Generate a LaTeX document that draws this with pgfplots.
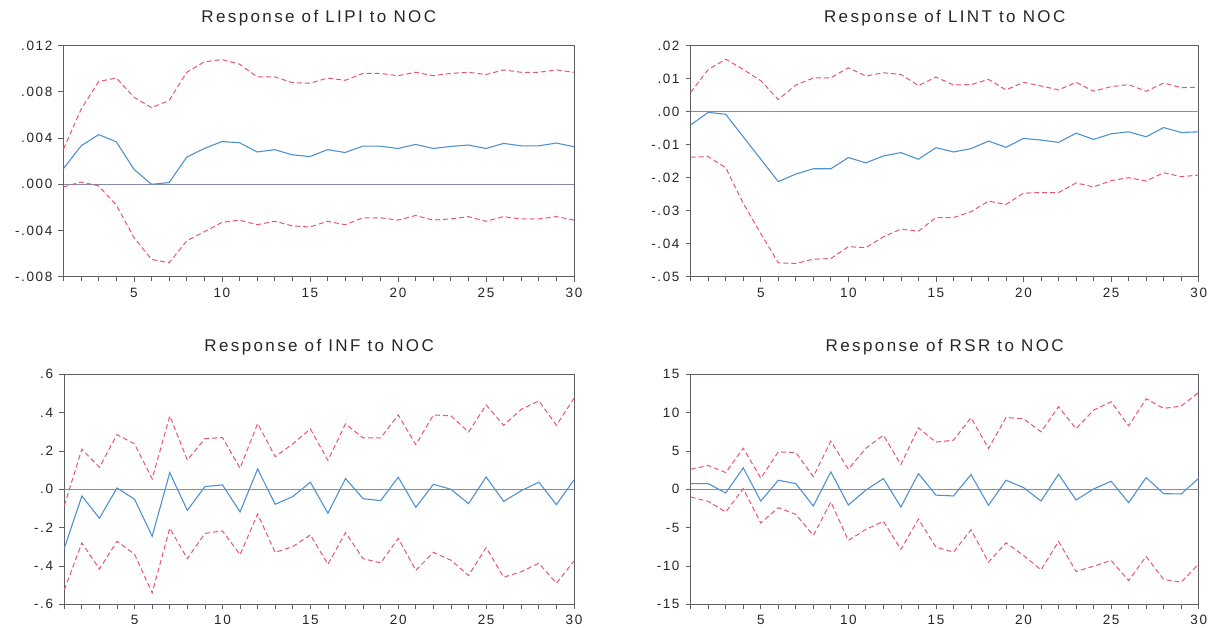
\documentclass[border=0pt]{standalone}
\usepackage{pgfplots}
\usepackage{pgfplotstable}
\pgfplotsset{compat=1.18}
\usepackage{fontspec}
\setmainfont{Liberation Sans}
\newfontfamily\titlefont[LetterSpace=14]{Liberation Sans}
\newfontfamily\tickfont[LetterSpace=12]{Liberation Sans}
\definecolor{irfblue}{RGB}{80,145,210}
\definecolor{irfred}{RGB}{232,85,115}
\definecolor{framegray}{RGB}{95,95,105}
\definecolor{zerogray}{RGB}{135,140,165}

\pgfplotstableread{
x mid up lo
1 0.00136 0.00304 -0.00023
2 0.00333 0.0065 0.0002
3 0.0043 0.0089 -0.00015
4 0.00368 0.0092 -0.0018
5 0.0013 0.00754 -0.0046
6 0.0 0.00664 -0.0065
7 0.00015 0.00725 -0.0068
8 0.00235 0.0097 -0.0049
9 0.0031 0.0106 -0.0041
10 0.0037 0.0108 -0.0033
11 0.0036 0.0104 -0.0031
12 0.0028 0.0093 -0.0035
13 0.003 0.0093 -0.0032
14 0.00255 0.0088 -0.0036
15 0.0024 0.00875 -0.0037
16 0.003 0.0092 -0.0032
17 0.00275 0.009 -0.0035
18 0.0033 0.0096 -0.0029
19 0.0033 0.0096 -0.0029
20 0.0031 0.0094 -0.0031
21 0.00345 0.0097 -0.0027
22 0.0031 0.0094 -0.0031
23 0.00328 0.0096 -0.003
24 0.0034 0.0097 -0.0028
25 0.0031 0.0095 -0.0032
26 0.00354 0.0099 -0.0028
27 0.00333 0.0097 -0.003
28 0.00333 0.0097 -0.003
29 0.00357 0.0099 -0.0028
30 0.00325 0.0097 -0.0031
}\tlipi

\pgfplotstableread{
x mid up lo
1 -0.004 0.0059 -0.0138
2 -0.0002 0.0128 -0.0136
3 -0.0008 0.0159 -0.017
4 -0.0076 0.0128 -0.0278
5 -0.0144 0.0094 -0.0369
6 -0.0212 0.0037 -0.0458
7 -0.0189 0.0081 -0.046
8 -0.0173 0.0102 -0.0447
9 -0.0173 0.0103 -0.0445
10 -0.0139 0.0133 -0.0409
11 -0.0155 0.0108 -0.0412
12 -0.0134 0.0118 -0.0379
13 -0.0124 0.0113 -0.0356
14 -0.0144 0.0079 -0.0362
15 -0.0109 0.0105 -0.0321
16 -0.0122 0.0081 -0.0321
17 -0.0112 0.0082 -0.0303
18 -0.0089 0.0098 -0.0271
19 -0.0108 0.0066 -0.0281
20 -0.0081 0.0089 -0.0247
21 -0.0086 0.0078 -0.0245
22 -0.0093 0.0066 -0.0245
23 -0.0065 0.0089 -0.0216
24 -0.0084 0.0062 -0.0228
25 -0.0067 0.0076 -0.0209
26 -0.0061 0.0082 -0.02
27 -0.0076 0.0062 -0.021
28 -0.0048 0.0087 -0.0185
29 -0.0063 0.0073 -0.0197
30 -0.0061 0.0074 -0.0192
}\tlint

\pgfplotstableread{
x mid up lo
1 -0.308 -0.085 -0.525
2 -0.035 0.209 -0.28
3 -0.151 0.115 -0.416
4 0.007 0.285 -0.271
5 -0.052 0.237 -0.339
6 -0.245 0.054 -0.541
7 0.087 0.383 -0.203
8 -0.11 0.153 -0.362
9 0.014 0.264 -0.23
10 0.023 0.27 -0.217
11 -0.118 0.11 -0.341
12 0.106 0.343 -0.129
13 -0.078 0.17 -0.329
14 -0.038 0.237 -0.299
15 0.037 0.315 -0.238
16 -0.125 0.151 -0.391
17 0.056 0.341 -0.226
18 -0.049 0.268 -0.362
19 -0.059 0.268 -0.384
20 0.063 0.388 -0.256
21 -0.094 0.233 -0.423
22 0.026 0.388 -0.329
23 0.0 0.383 -0.37
24 -0.075 0.299 -0.45
25 0.064 0.44 -0.304
26 -0.063 0.334 -0.459
27 -0.007 0.417 -0.43
28 0.037 0.461 -0.386
29 -0.08 0.334 -0.49
30 0.049 0.475 -0.374
}\tinf

\pgfplotstableread{
x mid up lo
1 0.74 2.62 -1.0
2 0.74 3.1 -1.57
3 -0.48 2.18 -2.96
4 2.79 5.36 0.09
5 -1.53 1.44 -4.4
6 1.18 4.88 -2.4
7 0.74 4.8 -3.27
8 -2.18 1.66 -6.02
9 2.27 6.28 -1.66
10 -2.05 2.62 -6.67
11 -0.1 5.36 -5.23
12 1.4 7.06 -4.18
13 -2.31 3.23 -7.85
14 2.05 8.02 -3.88
15 -0.76 6.15 -7.54
16 -0.87 6.41 -8.2
17 1.92 9.33 -5.28
18 -2.09 5.32 -9.5
19 1.18 9.37 -6.98
20 0.22 9.2 -8.63
21 -1.53 7.5 -10.5
22 1.96 10.77 -6.8
23 -1.4 7.89 -10.72
24 0.04 10.33 -10.03
25 1.05 11.42 -9.28
26 -1.74 8.28 -11.9
27 1.53 11.81 -8.76
28 -0.57 10.55 -11.77
29 -0.61 10.85 -12.12
30 1.44 12.64 -9.72
}\trsr

\pgfplotsset{
  irf/.style={
    scale only axis,
    xmin=1, xmax=30,
    xtick={5,10,15,20,25,30},
    xticklabels={5,10,15,20,25,30},
    minor xtick={1,...,30},
    xtick pos=bottom, ytick pos=left,
    tick align=outside,
    major tick length=5pt, minor tick length=4.5pt,
    scaled y ticks=false,
    axis line style={draw=framegray, line width=0.9pt},
    every tick/.style={draw=framegray, line width=0.8pt},
    tick label style={font=\tickfont\fontsize{13.5}{15}\selectfont, text=black!85},
    yticklabel style={inner sep=0pt, anchor=east, xshift=-6pt},
    xticklabel style={inner sep=0pt, anchor=north, yshift=-6pt},
    title style={font=\titlefont\fontsize{17}{20}\selectfont, text=black!85, anchor=base, at={(0.5,1)}, yshift=17pt, inner sep=0pt},
    clip=false,
  },
  mid/.style={irfblue, line width=1.1pt},
  band/.style={irfred, line width=1.0pt, dash pattern=on 5pt off 3pt},
  zero/.style={zerogray, line width=0.8pt},
}

\begin{document}
\begin{tikzpicture}
\useasboundingbox (0,0) rectangle (1226pt,628pt);

\begin{axis}[irf, at={(63.5pt,351.3pt)}, anchor=south west, width=510.5pt, height=231pt,
  ymin=-0.008, ymax=0.012,
  ytick={-0.008,-0.004,0,0.004,0.008,0.012},
  yticklabels={-.008,-.004,.000,.004,.008,.012},
  title={Response of LIPI to NOC}]
\addplot[zero] coordinates {(1,0) (30,0)};
\addplot[band] table[x=x,y=up] {\tlipi};
\addplot[band] table[x=x,y=lo] {\tlipi};
\addplot[mid] table[x=x,y=mid] {\tlipi};
\end{axis}

\begin{axis}[irf, at={(690.7pt,351.3pt)}, anchor=south west, width=508pt, height=231pt,
  ymin=-0.05, ymax=0.02,
  ytick={-0.05,-0.04,-0.03,-0.02,-0.01,0,0.01,0.02},
  yticklabels={-.05,-.04,-.03,-.02,-.01,.00,.01,.02},
  title={Response of LINT to NOC}]
\addplot[zero] coordinates {(1,0) (30,0)};
\addplot[band] table[x=x,y=up] {\tlint};
\addplot[band] table[x=x,y=lo] {\tlint};
\addplot[mid] table[x=x,y=mid] {\tlint};
\end{axis}

\begin{axis}[irf, at={(64.3pt,23.7pt)}, anchor=south west, width=509.7pt, height=230pt,
  ymin=-0.6, ymax=0.6,
  ytick={-0.6,-0.4,-0.2,0,0.2,0.4,0.6},
  yticklabels={-.6,-.4,-.2,.0,.2,.4,.6},
  title={Response of INF to NOC}]
\addplot[zero] coordinates {(1,0) (30,0)};
\addplot[band] table[x=x,y=up] {\tinf};
\addplot[band] table[x=x,y=lo] {\tinf};
\addplot[mid] table[x=x,y=mid] {\tinf};
\end{axis}

\begin{axis}[irf, at={(690.7pt,23.7pt)}, anchor=south west, width=508pt, height=230pt,
  ymin=-15, ymax=15,
  ytick={-15,-10,-5,0,5,10,15},
  yticklabels={-15,-10,-5,0,5,10,15},
  title={Response of RSR to NOC}]
\addplot[zero] coordinates {(1,0) (30,0)};
\addplot[band] table[x=x,y=up] {\trsr};
\addplot[band] table[x=x,y=lo] {\trsr};
\addplot[mid] table[x=x,y=mid] {\trsr};
\end{axis}
\end{tikzpicture}
\end{document}
